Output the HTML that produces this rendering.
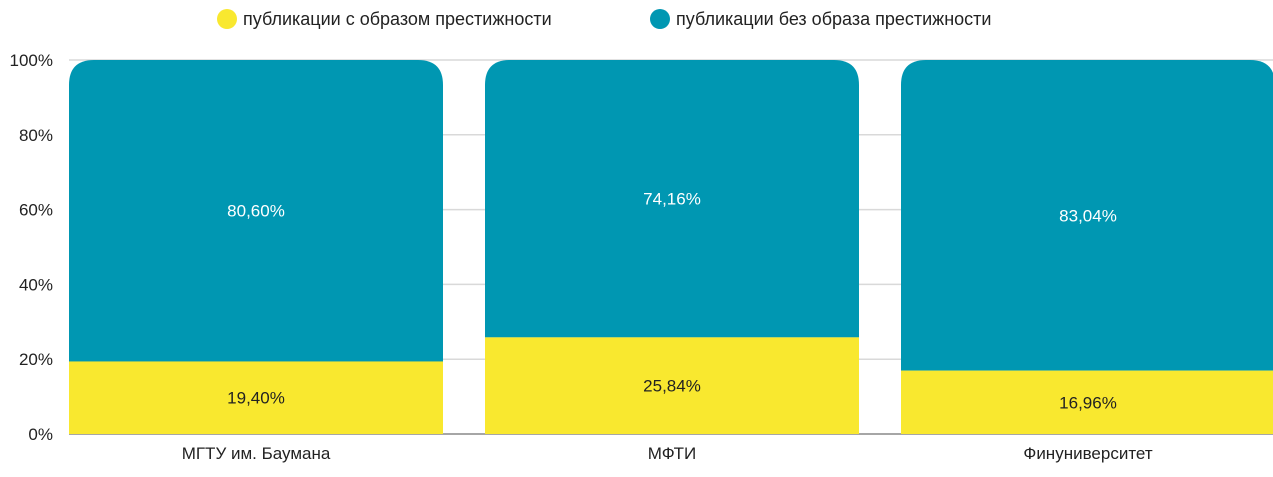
<!DOCTYPE html>
<html><head><meta charset="utf-8"><style>
body{margin:0;background:#fff;}
svg{display:block;font-family:"Century Gothic","Liberation Sans",sans-serif;}
</style></head><body>
<svg id="chart" width="1273" height="477">
<g id="grid"></g>
<g id="yticks"></g>
<g id="bars"></g>
<g id="xlabels"></g>
<g>
<g>
<circle cx="227" cy="19" r="10" fill="#f9e82f"/>
<text x="243" y="25" font-size="18" fill="#222">публикации с образом престижности</text></g>
<g>
<circle cx="660" cy="19" r="10" fill="#0097b2"/>
<text x="676" y="25" font-size="18" fill="#222">публикации без образа престижности</text></g>
</g>
</svg>
<script>
const categories=["МГТУ им. Баумана","МФТИ","Финуниверситет"];
const prestige=[19.40,25.84,16.96];
const noPrestige=[80.60,74.16,83.04];
const yTicks=[0,20,40,60,80,100];
const NS="http://www.w3.org/2000/svg";
const y0=434,y100=60,x0=69,step=416,bw=374;
const y=v=>y0-(y0-y100)*v/100;
const xb=i=>x0+i*step;
function mk(t,a,p){const e=document.createElementNS(NS,t);for(const k in a)e.setAttribute(k,a[k]);p.appendChild(e);return e;}
const fmt=v=>v.toFixed(2).replace('.',',')+'%';
const grid=document.getElementById('grid'),yt=document.getElementById('yticks'),bars=document.getElementById('bars'),xl=document.getElementById('xlabels');
yTicks.forEach(t=>{
 const l=mk('line',{x1:x0,x2:1273,y1:y(t),y2:y(t),stroke:t===0?'#a6a6a6':'#d9d9d9','stroke-width':t===0?2:1.5},grid);
 
 
 const tx=mk('text',{x:53,y:y(t)+6,'text-anchor':'end','font-size':17,fill:'#222'},yt);
 tx.textContent=t+'%';
 
 
});
categories.forEach((c,i)=>{
 const x=xb(i),r=25;
 const yb=y(prestige[i]),yt2=y(prestige[i]+noPrestige[i]);
 const p=mk('path',{d:`M${x},${yb} L${x},${yt2+r} Q${x},${yt2} ${x+r},${yt2} L${x+bw-r},${yt2} Q${x+bw},${yt2} ${x+bw},${yt2+r} L${x+bw},${yb} Z`,fill:'#0097b2'},bars);
 
 
 const rc=mk('rect',{x:x,y:yb,width:bw,height:y0-yb,fill:'#f9e82f'},bars);
 
 
 const t1=mk('text',{x:x+bw/2,y:(yb+yt2)/2+6,'text-anchor':'middle','font-size':17,fill:'#fff'},bars);
 t1.textContent=fmt(noPrestige[i]);
 
 
 const t2=mk('text',{x:x+bw/2,y:(yb+y0)/2+6,'text-anchor':'middle','font-size':17,fill:'#222'},bars);
 t2.textContent=fmt(prestige[i]);
 
 
 const xt=mk('text',{x:x+bw/2,y:459,'text-anchor':'middle','font-size':17,fill:'#222'},xl);
 xt.textContent=c;
 
 
});
</script>
</body></html>
